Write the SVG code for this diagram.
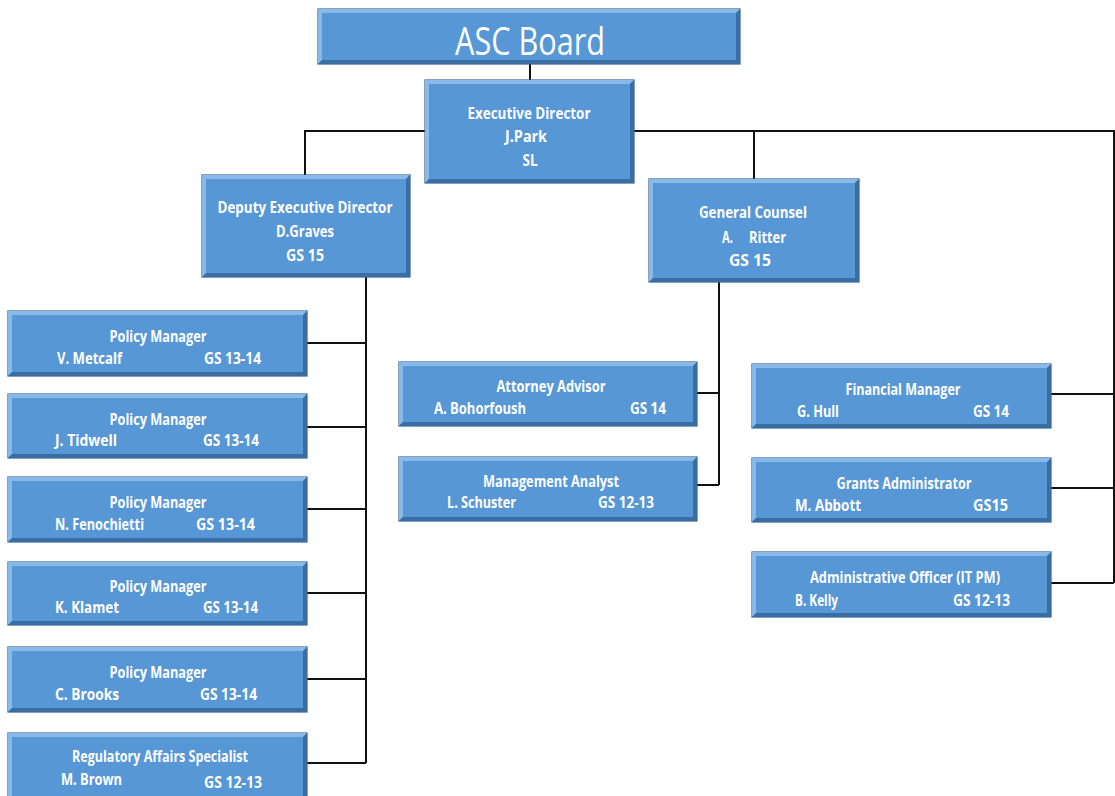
<svg xmlns="http://www.w3.org/2000/svg" width="1115" height="796" viewBox="0 0 1115 796">
<style>
.base{fill:#5797d6;stroke:#35628f;stroke-width:1.2}
.hi{fill:#88b9e8}
.lo{fill:#3a6ea3}
.t{font-family:"Open Sans","Liberation Sans",sans-serif;font-weight:bold;font-size:16px;fill:#ffffff}
.c{text-anchor:middle}
.big{font-family:"Open Sans","Liberation Sans",sans-serif;font-size:38px;fill:#ffffff;text-anchor:middle}
.conn path{fill:none;stroke:#111;stroke-width:2}
</style>
<rect width="1115" height="796" fill="#ffffff"/>
<g class="conn" id="connectors">
<path d="M530 64V80"/>
<path d="M425 131H305V175"/>
<path d="M634 131H1114V583"/>
<path d="M754 131V179"/>
<path d="M366 277V763"/>
<path d="M307 343H366M307 427H366M307 509H366M307 593H366M307 679H366M307 763H366"/>
<path d="M719 282V485M697 393H719M697 485H719"/>
<path d="M1051 394H1114M1051 488H1114M1051 583H1114"/>
</g>
<g id="board">
<rect class="base" x="318" y="9" width="422" height="55"/>
<path class="hi" d="M318 9H740L736 13H322V60L318 64Z"/>
<path class="lo" d="M740 64H318L322 60H736V13L740 9Z"/>
<text class="big" x="530" y="55" textLength="150" lengthAdjust="spacingAndGlyphs">ASC Board</text>
</g>
<g id="exec">
<rect class="base" x="425" y="80" width="209" height="103"/>
<path class="hi" d="M425 80H634L630 84H429V179L425 183Z"/>
<path class="lo" d="M634 183H425L429 179H630V84L634 80Z"/>
<text class="t c" x="529" y="119" textLength="123" lengthAdjust="spacingAndGlyphs">Executive Director</text>
<text class="t c" x="526" y="142" textLength="42" lengthAdjust="spacingAndGlyphs">J.Park</text>
<text class="t c" x="530" y="166" textLength="15" lengthAdjust="spacingAndGlyphs">SL</text>
</g>
<g id="deputy">
<rect class="base" x="202" y="175" width="208" height="102"/>
<path class="hi" d="M202 175H410L406 179H206V273L202 277Z"/>
<path class="lo" d="M410 277H202L206 273H406V179L410 175Z"/>
<text class="t c" x="305" y="213" textLength="175" lengthAdjust="spacingAndGlyphs">Deputy Executive Director</text>
<text class="t c" x="305" y="237" textLength="58" lengthAdjust="spacingAndGlyphs">D.Graves</text>
<text class="t c" x="305" y="261" textLength="38" lengthAdjust="spacingAndGlyphs">GS 15</text>
</g>
<g id="counsel">
<rect class="base" x="649" y="179" width="210" height="103"/>
<path class="hi" d="M649 179H859L855 183H653V278L649 282Z"/>
<path class="lo" d="M859 282H649L653 278H855V183L859 179Z"/>
<text class="t c" x="753" y="218" textLength="108" lengthAdjust="spacingAndGlyphs">General Counsel</text>
<text class="t" x="722" y="243" textLength="11" lengthAdjust="spacingAndGlyphs">A.</text>
<text class="t" x="749" y="243" textLength="37" lengthAdjust="spacingAndGlyphs">Ritter</text>
<text class="t c" x="750" y="266" textLength="42" lengthAdjust="spacingAndGlyphs">GS 15</text>
</g>
<g id="pm1">
<rect class="base" x="8" y="311" width="299" height="65"/>
<path class="hi" d="M8 311H307L303 315H12V372L8 376Z"/>
<path class="lo" d="M307 376H8L12 372H303V315L307 311Z"/>
<text class="t c" x="158" y="342" textLength="97" lengthAdjust="spacingAndGlyphs">Policy Manager</text>
<text class="t" x="57" y="364" textLength="65" lengthAdjust="spacingAndGlyphs">V. Metcalf</text>
<text class="t" x="204" y="364" textLength="57" lengthAdjust="spacingAndGlyphs">GS 13-14</text>
</g>
<g id="pm2">
<rect class="base" x="8" y="394" width="299" height="64"/>
<path class="hi" d="M8 394H307L303 398H12V454L8 458Z"/>
<path class="lo" d="M307 458H8L12 454H303V398L307 394Z"/>
<text class="t c" x="158" y="425" textLength="97" lengthAdjust="spacingAndGlyphs">Policy Manager</text>
<text class="t" x="55" y="446" textLength="62" lengthAdjust="spacingAndGlyphs">J. Tidwell</text>
<text class="t" x="203" y="446" textLength="56" lengthAdjust="spacingAndGlyphs">GS 13-14</text>
</g>
<g id="pm3">
<rect class="base" x="8" y="477" width="299" height="65"/>
<path class="hi" d="M8 477H307L303 481H12V538L8 542Z"/>
<path class="lo" d="M307 542H8L12 538H303V481L307 477Z"/>
<text class="t c" x="158" y="508" textLength="97" lengthAdjust="spacingAndGlyphs">Policy Manager</text>
<text class="t" x="55" y="530" textLength="89" lengthAdjust="spacingAndGlyphs">N. Fenochietti</text>
<text class="t" x="196" y="530" textLength="59" lengthAdjust="spacingAndGlyphs">GS 13-14</text>
</g>
<g id="pm4">
<rect class="base" x="8" y="562" width="299" height="63"/>
<path class="hi" d="M8 562H307L303 566H12V621L8 625Z"/>
<path class="lo" d="M307 625H8L12 621H303V566L307 562Z"/>
<text class="t c" x="158" y="592" textLength="97" lengthAdjust="spacingAndGlyphs">Policy Manager</text>
<text class="t" x="55" y="613" textLength="64" lengthAdjust="spacingAndGlyphs">K. Klamet</text>
<text class="t" x="203" y="613" textLength="55" lengthAdjust="spacingAndGlyphs">GS 13-14</text>
</g>
<g id="pm5">
<rect class="base" x="8" y="647" width="299" height="65"/>
<path class="hi" d="M8 647H307L303 651H12V708L8 712Z"/>
<path class="lo" d="M307 712H8L12 708H303V651L307 647Z"/>
<text class="t c" x="158" y="678" textLength="97" lengthAdjust="spacingAndGlyphs">Policy Manager</text>
<text class="t" x="55" y="700" textLength="64" lengthAdjust="spacingAndGlyphs">C. Brooks</text>
<text class="t" x="200" y="700" textLength="57" lengthAdjust="spacingAndGlyphs">GS 13-14</text>
</g>
<g id="ras">
<rect class="base" x="8" y="733" width="299" height="70"/>
<path class="hi" d="M8 733H307L303 737H12V799L8 803Z"/>
<path class="lo" d="M307 803H8L12 799H303V737L307 733Z"/>
<text class="t c" x="160" y="762" textLength="176" lengthAdjust="spacingAndGlyphs">Regulatory Affairs Specialist</text>
<text class="t" x="61" y="785" textLength="61" lengthAdjust="spacingAndGlyphs">M. Brown</text>
<text class="t" x="204" y="788" textLength="58" lengthAdjust="spacingAndGlyphs">GS 12-13</text>
</g>
<g id="attorney">
<rect class="base" x="399" y="362" width="298" height="64"/>
<path class="hi" d="M399 362H697L693 366H403V422L399 426Z"/>
<path class="lo" d="M697 426H399L403 422H693V366L697 362Z"/>
<text class="t c" x="551" y="392" textLength="109" lengthAdjust="spacingAndGlyphs">Attorney Advisor</text>
<text class="t" x="434" y="414" textLength="92" lengthAdjust="spacingAndGlyphs">A. Bohorfoush</text>
<text class="t" x="630" y="414" textLength="36" lengthAdjust="spacingAndGlyphs">GS 14</text>
</g>
<g id="analyst">
<rect class="base" x="399" y="457" width="298" height="64"/>
<path class="hi" d="M399 457H697L693 461H403V517L399 521Z"/>
<path class="lo" d="M697 521H399L403 517H693V461L697 457Z"/>
<text class="t c" x="551" y="487" textLength="136" lengthAdjust="spacingAndGlyphs">Management Analyst</text>
<text class="t" x="447" y="508" textLength="69" lengthAdjust="spacingAndGlyphs">L. Schuster</text>
<text class="t" x="598" y="508" textLength="56" lengthAdjust="spacingAndGlyphs">GS 12-13</text>
</g>
<g id="finance">
<rect class="base" x="752" y="364" width="299" height="64"/>
<path class="hi" d="M752 364H1051L1047 368H756V424L752 428Z"/>
<path class="lo" d="M1051 428H752L756 424H1047V368L1051 364Z"/>
<text class="t c" x="903" y="395" textLength="115" lengthAdjust="spacingAndGlyphs">Financial Manager</text>
<text class="t" x="797" y="417" textLength="42" lengthAdjust="spacingAndGlyphs">G. Hull</text>
<text class="t" x="973" y="417" textLength="36" lengthAdjust="spacingAndGlyphs">GS 14</text>
</g>
<g id="grants">
<rect class="base" x="752" y="458" width="299" height="64"/>
<path class="hi" d="M752 458H1051L1047 462H756V518L752 522Z"/>
<path class="lo" d="M1051 522H752L756 518H1047V462L1051 458Z"/>
<text class="t c" x="904" y="489" textLength="135" lengthAdjust="spacingAndGlyphs">Grants Administrator</text>
<text class="t" x="795" y="511" textLength="66" lengthAdjust="spacingAndGlyphs">M. Abbott</text>
<text class="t" x="973" y="511" textLength="35" lengthAdjust="spacingAndGlyphs">GS15</text>
</g>
<g id="admin">
<rect class="base" x="752" y="552" width="299" height="65"/>
<path class="hi" d="M752 552H1051L1047 556H756V613L752 617Z"/>
<path class="lo" d="M1051 617H752L756 613H1047V556L1051 552Z"/>
<text class="t c" x="905" y="583" textLength="190" lengthAdjust="spacingAndGlyphs">Administrative Officer (IT PM)</text>
<text class="t" x="795" y="606" textLength="43" lengthAdjust="spacingAndGlyphs">B. Kelly</text>
<text class="t" x="953" y="606" textLength="57" lengthAdjust="spacingAndGlyphs">GS 12-13</text>
</g>
</svg>
